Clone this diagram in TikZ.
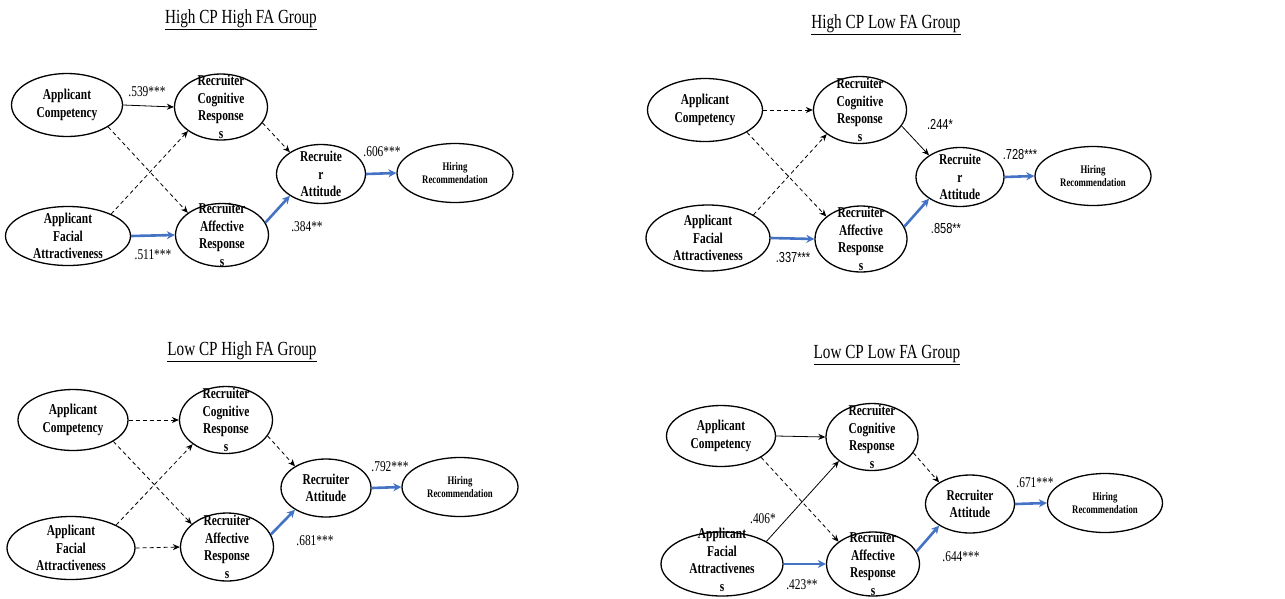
\documentclass[tikz,border=0pt]{standalone}
\usepackage{fontspec}
\usetikzlibrary{shapes.geometric,arrows.meta}
\newfontfamily\tnr[FakeStretch=0.76]{Liberation Serif}
\newfontfamily\arl[FakeStretch=0.76]{Liberation Sans}
\definecolor{fablue}{RGB}{68,114,196}
\tikzset{
  var/.style 2 args={ellipse, draw, line width=1.3pt, inner sep=0pt,
    minimum width=#1pt, minimum height=#2pt},
  vtxt/.style={font=\tnr\bfseries\fontsize{15}{17.7}\selectfont, align=center, inner sep=0pt},
  hire/.style={font=\tnr\bfseries\fontsize{11.5}{13}\selectfont, align=center, inner sep=0pt},
  coef/.style={font=\tnr\fontsize{15}{17}\selectfont, inner sep=1pt},
  coefsf/.style={font=\arl\fontsize{14.5}{17}\selectfont, inner sep=1pt},
  gtitle/.style={font=\tnr\fontsize{20}{24}\selectfont},
  sig/.style={line width=0.8pt, -{Stealth[length=7pt,width=6pt]}},
  ns/.style={sig, dash pattern=on 4pt off 3pt},
  fa/.style={line width=2.6pt, draw=fablue, -{Stealth[length=8pt,width=8pt]}, fablue}
}
\begin{document}
\begin{tikzpicture}[x=1pt, y=-1pt]
   \useasboundingbox (0,0) rectangle (1285,598);
   % high CP high FA
   \node[gtitle] (a-t) at (241,20) {\underline{High CP High FA Group}};
   \node[var={111}{63}, label={[vtxt]center:Applicant\\Competency}] (a-ac) at (67,105) {};
   \node[var={93}{66}, label={[vtxt]center:Recruiter\\Cognitive\\Response\\s}] (a-rc) at (221,107) {};
   \node[var={125}{59}, label={[vtxt]center:Applicant\\Facial\\Attractiveness}] (a-af) at (68,236) {};
   \node[var={93}{63}, label={[vtxt]center:Recruiter\\Affective\\Response\\s}] (a-ra) at (222,235) {};
   \node[var={89}{59}, label={[vtxt]center:Recruite\\r\\Attitude}] (a-at) at (321,174) {};
   \node[var={116}{59}, label={[hire]center:Hiring\\Recommendation}] (a-hr) at (455,173) {};
   \node[coef] (a-l1) at (147,92) {.539***};
   \node[coef] (a-l2) at (153,255) {.511***};
   \node[coef] (a-l3) at (307,227) {.384**};
   \node[coef] (a-l4) at (382,152) {.606***};
   % high CP low FA
   \node[gtitle] (b-t) at (886,25) {\underline{High CP Low FA Group}};
   \node[var={115}{63}, label={[vtxt]center:Applicant\\Competency}] (b-ac) at (705,110) {};
   \node[var={93}{67}, label={[vtxt]center:Recruiter\\Cognitive\\Response\\s}] (b-rc) at (860,110) {};
   \node[var={124}{66}, label={[vtxt]center:Applicant\\Facial\\Attractiveness}] (b-af) at (708,238) {};
   \node[var={92}{66}, label={[vtxt]center:Recruiter\\Affective\\Response\\s}] (b-ra) at (861,239) {};
   \node[var={88}{59}, label={[vtxt]center:Recruite\\r\\Attitude}] (b-at) at (960,177) {};
   \node[var={116}{59}, label={[hire]center:Hiring\\Recommendation}] (b-hr) at (1093,176) {};
   \node[coefsf] (b-l1) at (940,124) {.244*};
   \node[coefsf] (b-l2) at (793,258) {.337***};
   \node[coefsf] (b-l3) at (946,229) {.858**};
   \node[coefsf] (b-l4) at (1020,155) {.728***};
   % low CP high FA
   \node[gtitle] (c-t) at (242,352) {\underline{Low CP High FA Group}};
   \node[var={110}{61}, label={[vtxt]center:Applicant\\Competency}] (c-ac) at (73,420) {};
   \node[var={93}{67}, label={[vtxt]center:Recruiter\\Cognitive\\Response\\s}] (c-rc) at (226,420) {};
   \node[var={128}{63}, label={[vtxt]center:Applicant\\Facial\\Attractiveness}] (c-af) at (71,548) {};
   \node[var={93}{68}, label={[vtxt]center:Recruiter\\Affective\\Response\\s}] (c-ra) at (227,547) {};
   \node[var={90}{58}, label={[vtxt]center:Recruiter\\Attitude}] (c-at) at (326,488) {};
   \node[var={116}{59}, label={[hire]center:Hiring\\Recommendation}] (c-hr) at (460,487) {};
   \node[coef] (c-l3) at (315,541) {.681***};
   \node[coef] (c-l4) at (390,467) {.792***};
   % low CP low FA
   \node[gtitle] (d-t) at (887,355) {\underline{Low CP Low FA Group}};
   \node[var={109}{61}, label={[vtxt]center:Applicant\\Competency}] (d-ac) at (721,436) {};
   \node[var={92}{67}, label={[vtxt]center:Recruiter\\Cognitive\\Response\\s}] (d-rc) at (872,437) {};
   \node[var={122}{64}, label={[vtxt, yshift=4pt]center:Applicant\\Facial\\Attractivenes\\s}] (d-af) at (722,564) {};
   \node[var={93}{64}, label={[vtxt]center:Recruiter\\Affective\\Response\\s}] (d-ra) at (873,564) {};
   \node[var={89}{58}, label={[vtxt]center:Recruiter\\Attitude}] (d-at) at (970,504) {};
   \node[var={115}{59}, label={[hire]center:Hiring\\Recommendation}] (d-hr) at (1105,503) {};
   \node[coef] (d-l1) at (763,519) {.406*};
   \node[coef] (d-l2) at (802,585) {.423**};
   \node[coef] (d-l3) at (961,557) {.644***};
   \node[coef] (d-l4) at (1035,483) {.671***};
   % paths: ac-rc / ac-ra / af-rc / af-ra / rc-at
   \foreach \p/\e/\f/\g/\h/\k in
     {a/sig/ns/ns/fa/ns,
      b/ns/ns/ns/fa/sig,
      c/ns/ns/ns/ns/ns,
      d/sig/ns/sig/fa/ns}
   {
     \draw[\e] (\p-ac.east) -- (\p-rc.west);
     \draw[\f] (\p-ac.-28) -- (\p-ra.147);
     \draw[\g] (\p-af.27) -- (\p-rc.216);
     \draw[\h] (\p-af.east) -- (\p-ra.west);
     \draw[\k] (\p-rc.-21) -- (\p-at.145);
     \draw[fa] (\p-ra.16) -- (\p-at.215);
     \draw[fa] (\p-at.east) -- (\p-hr.west);
   }
\end{tikzpicture}
\end{document}
